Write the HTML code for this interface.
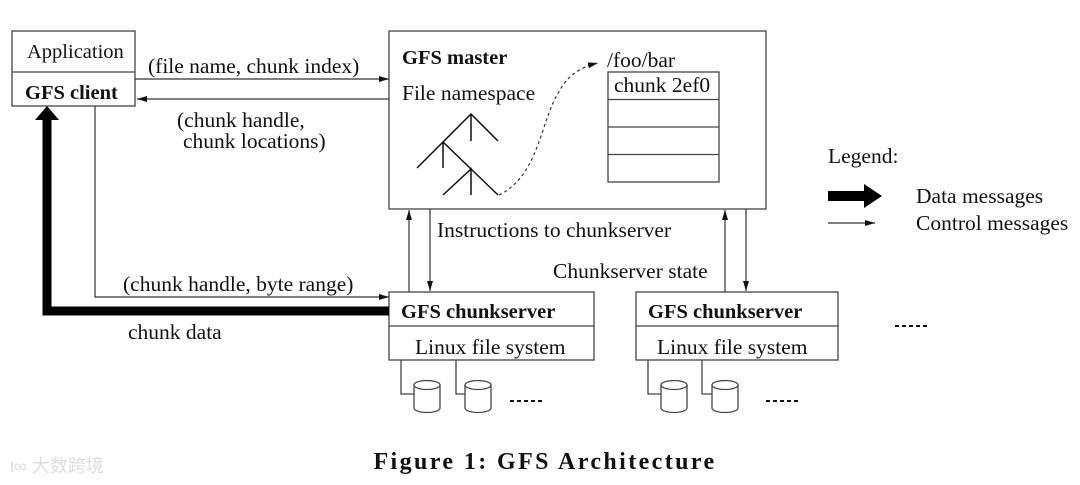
<!DOCTYPE html>
<html><head><meta charset="utf-8"><style>
html,body{margin:0;padding:0;background:#fff;}
svg{display:block;}
text{font-family:"Liberation Serif",serif;font-size:21.5px;fill:#111;}
.b{font-weight:bold;font-size:20.5px;}
</style></head><body>
<svg width="1080" height="485" viewBox="0 0 1080 485" xmlns="http://www.w3.org/2000/svg">
<defs>
<marker id="ah" markerWidth="10" markerHeight="6" refX="10" refY="3" orient="auto" markerUnits="userSpaceOnUse"><path d="M0,0 L10,3 L0,6 z" fill="#111"/></marker>
</defs>
<g stroke="#444" stroke-width="1.3" fill="none">
<rect x="12" y="31" width="123" height="75"/>
<line x1="12" y1="72" x2="135" y2="72"/>
<rect x="389" y="31" width="377" height="178"/>
<rect x="608" y="72" width="111" height="110"/>
<line x1="608" y1="99.5" x2="719" y2="99.5"/>
<line x1="608" y1="127" x2="719" y2="127"/>
<line x1="608" y1="154.5" x2="719" y2="154.5"/>
<rect x="389" y="292" width="205" height="68"/>
<line x1="389" y1="326" x2="594" y2="326"/>
<rect x="636" y="292" width="202" height="68"/>
<line x1="636" y1="326" x2="838" y2="326"/>
<path d="M401 360 V394 H414 M456 360 V394 H466"/>
<path d="M648 360 V394 H661 M702 360 V394 H714"/>
</g>
<g stroke="#444" stroke-width="1.3" fill="#fff">
<path d="M414 385 V408 A13 4.5 0 0 0 440 408 V385"/><ellipse cx="427" cy="385" rx="13" ry="4.5"/>
<path d="M465 385 V408 A13 4.5 0 0 0 491 408 V385"/><ellipse cx="478" cy="385" rx="13" ry="4.5"/>
<path d="M661 385 V408 A13 4.5 0 0 0 687 408 V385"/><ellipse cx="674" cy="385" rx="13" ry="4.5"/>
<path d="M712 385 V408 A13 4.5 0 0 0 738 408 V385"/><ellipse cx="725" cy="385" rx="13" ry="4.5"/>
</g>
<g stroke="#111" stroke-width="2" stroke-dasharray="4,3">
<line x1="510" y1="401" x2="542" y2="401"/>
<line x1="766" y1="401" x2="798" y2="401"/>
<line x1="895" y1="326" x2="930" y2="326"/>
</g>
<g stroke="#111" stroke-width="1.5" fill="none">
<path d="M417 168 L471 114 L498 141 M471 114 V141 M443 142 V168 M443 142 L498 195 M443 195 L471 169 V195"/>
</g>
<path d="M499 195 C 540 175, 540 120, 560 90 C 570 72, 585 66, 598 63" stroke="#333" stroke-width="1.2" fill="none" stroke-dasharray="3,3" marker-end="url(#ah)"/>
<g stroke="#333" stroke-width="1.2" fill="none" marker-end="url(#ah)">
<line x1="135" y1="79" x2="389" y2="79"/>
<line x1="389" y1="99" x2="137" y2="99"/>
<path d="M95 106 V297 H389"/>
<line x1="409" y1="292" x2="409" y2="210"/>
<line x1="430" y1="209" x2="430" y2="291"/>
<line x1="725" y1="292" x2="725" y2="210"/>
<line x1="746" y1="209" x2="746" y2="291"/>
<line x1="828" y1="223" x2="875" y2="223"/>
</g>
<path d="M389 311 H47 V118" stroke="#000" stroke-width="9" fill="none"/>
<path d="M35 120 L47 106 L59 120 z" fill="#000"/>
<path d="M828 191 H864 V184 L882 196 L864 208 V201 H828 z" fill="#000"/>
<text x="27" y="58" style="font-size:20.5px">Application</text>
<text x="25" y="99" class="b">GFS client</text>
<text x="148" y="73">(file name, chunk index)</text>
<text x="177" y="127">(chunk handle,</text>
<text x="183" y="148">chunk locations)</text>
<text x="402" y="64" class="b">GFS master</text>
<text x="402" y="100">File namespace</text>
<text x="607" y="67">/foo/bar</text>
<text x="614" y="92">chunk 2ef0</text>
<text x="437" y="237">Instructions to chunkserver</text>
<text x="553" y="278">Chunkserver state</text>
<text x="123" y="291">(chunk handle, byte range)</text>
<text x="128" y="339">chunk data</text>
<text x="401" y="318" class="b">GFS chunkserver</text>
<text x="415" y="354">Linux file system</text>
<text x="648" y="318" class="b">GFS chunkserver</text>
<text x="657" y="354">Linux file system</text>
<text x="828" y="163">Legend:</text>
<text x="916" y="203" style="font-size:21.5px">Data messages</text>
<text x="916" y="230" style="font-size:21.5px">Control messages</text>
<text x="545" y="469" text-anchor="middle" style="font-size:24px;font-weight:bold;letter-spacing:2.4px">Figure 1: GFS Architecture</text>
<text x="10" y="472" style="font-family:'Liberation Sans','Noto Sans CJK SC',sans-serif;font-size:18px;fill:#ddd">ι∞ 大数跨境</text>
</svg>
</body></html>
